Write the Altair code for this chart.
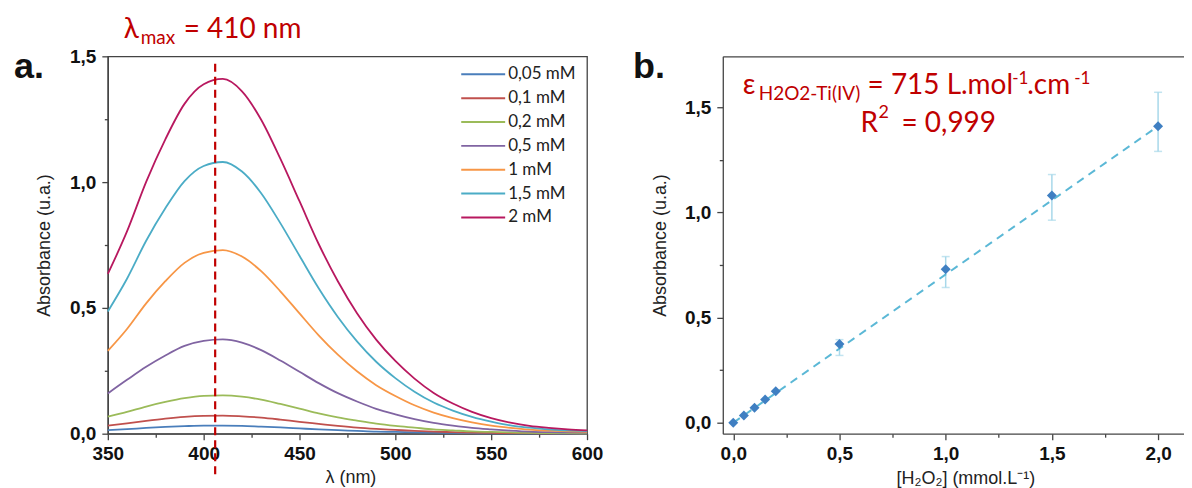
import altair as alt
import pandas as pd

# ---------------- panel a : UV-vis spectra ----------------
wavelength = [350, 360, 370, 380, 390, 400, 410, 420, 430, 440, 450, 460, 470,
              480, 490, 500, 510, 520, 530, 540, 550, 560, 570, 580, 590, 600]
series_names = ["0,05 mM", "0,1 mM", "0,2 mM", "0,5 mM", "1 mM", "1,5 mM", "2 mM"]
series_colors = ["#4A7EBB", "#C0504D", "#9BBB59", "#8064A2", "#F79646", "#4BACC6", "#B8185F"]

abs_0_05 = [0.014, 0.018, 0.023, 0.027, 0.030, 0.032, 0.032, 0.031, 0.028, 0.025, 0.021, 0.017, 0.014,
            0.011, 0.008, 0.007, 0.005, 0.004, 0.003, 0.002, 0.001, 0.001, 0.001, 0.001, 0.000, 0.000]
abs_0_1 = [0.032, 0.041, 0.051, 0.060, 0.067, 0.071, 0.072, 0.069, 0.064, 0.056, 0.047, 0.039, 0.031,
           0.024, 0.019, 0.015, 0.011, 0.008, 0.006, 0.004, 0.003, 0.002, 0.002, 0.001, 0.001, 0.001]
abs_0_2 = [0.068, 0.087, 0.108, 0.126, 0.141, 0.150, 0.152, 0.147, 0.135, 0.118, 0.100, 0.081, 0.065,
           0.052, 0.040, 0.031, 0.024, 0.017, 0.013, 0.009, 0.007, 0.005, 0.003, 0.002, 0.002, 0.001]
abs_0_5 = [0.160, 0.214, 0.266, 0.311, 0.349, 0.369, 0.375, 0.362, 0.332, 0.291, 0.246, 0.201, 0.161,
           0.128, 0.099, 0.077, 0.058, 0.043, 0.032, 0.023, 0.017, 0.012, 0.008, 0.006, 0.005, 0.004]
abs_1 = [0.329, 0.416, 0.518, 0.606, 0.679, 0.719, 0.730, 0.704, 0.646, 0.566, 0.478, 0.391, 0.314,
         0.248, 0.193, 0.150, 0.113, 0.084, 0.062, 0.045, 0.032, 0.023, 0.016, 0.012, 0.009, 0.007]
abs_1_5 = [0.486, 0.616, 0.767, 0.896, 1.004, 1.064, 1.080, 1.042, 0.956, 0.837, 0.707, 0.578, 0.464,
           0.367, 0.286, 0.221, 0.167, 0.124, 0.092, 0.067, 0.048, 0.033, 0.024, 0.017, 0.013, 0.010]
abs_2 = [0.635, 0.804, 1.001, 1.170, 1.311, 1.389, 1.410, 1.361, 1.248, 1.093, 0.924, 0.754, 0.606,
         0.479, 0.374, 0.289, 0.219, 0.162, 0.120, 0.087, 0.062, 0.044, 0.031, 0.023, 0.017, 0.013]

lambda_line = [406]
lambda_line_top = [1.47]
lambda_line_bottom = [-0.18]

# ---------------- panel b : calibration ----------------
conc = [0.0, 0.05, 0.1, 0.15, 0.2, 0.5, 1.0, 1.5, 2.0]
absorb = [0.0, 0.035, 0.071, 0.11, 0.15, 0.374, 0.73, 1.08, 1.41]
err_low = [0.0, 0.035, 0.071, 0.11, 0.15, 0.32, 0.643, 0.963, 1.29]
err_high = [0.0, 0.035, 0.071, 0.11, 0.15, 0.395, 0.79, 1.18, 1.571]
fit_x = [0.0, 2.0]
fit_y = [0.0, 1.41]

# ---------------- build tables ----------------
all_series = [abs_0_05, abs_0_1, abs_0_2, abs_0_5, abs_1, abs_1_5, abs_2]
rows = []
for name, vals in zip(series_names, all_series):
    for w, v in zip(wavelength, vals):
        rows.append({"wl": w, "A": v, "serie": name})
df_a = pd.DataFrame(rows)
df_lam = pd.DataFrame({"wl": lambda_line, "y1": lambda_line_top, "y2": lambda_line_bottom})

df_b = pd.DataFrame({"c": conc, "A": absorb, "lo": err_low, "hi": err_high})
df_err = df_b[df_b["hi"] > df_b["lo"]]
df_fit = pd.DataFrame({"c": fit_x, "A": fit_y})

RED = "#C00000"
TXT_FONT = "Lato, Open Sans, DejaVu Sans"
AX_COLOR = "#444444"

def comma(step):
    return f"datum.value % {step} === 0 ? replace(format(datum.value, '.1f'), '.', ',') : ''"

def tick_cond(step):
    return {"condition": {"test": f"abs(datum.value % {step}) < 1e-9", "value": 6}, "value": 3.5}

common_axis = dict(
    grid=False, labelFont="Liberation Sans", labelFontSize=19, labelFontWeight="bold",
    labelColor="#111111", titleFont="Liberation Sans", titleFontSize=18,
    titleFontWeight="normal", titleColor="#222222", tickColor=AX_COLOR,
    domainColor=AX_COLOR, tickWidth=1.3, domainWidth=1.3, labelOverlap=False,
    labelFlush=False, titleBaseline="alphabetic",
)

W_A, H = 480, 378
W_B = 462

xa = alt.X("wl:Q", scale=alt.Scale(domain=[350, 600], nice=False, zero=False),
           axis=alt.Axis(title="λ (nm)", values=list(range(350, 601, 25)),
                         labelExpr="datum.value % 50 === 0 ? format(datum.value, 'd') : ''",
                         tickSize=tick_cond(50), labelPadding=5, titleX=243, titleY=49,
                         titleAngle=0, **common_axis))
ya = alt.Y("A:Q", scale=alt.Scale(domain=[0, 1.5], nice=False, zero=False),
           axis=alt.Axis(title="Absorbance (u.a.)",
                         values=[0, 0.25, 0.5, 0.75, 1.0, 1.25, 1.5],
                         labelExpr=comma(0.5), tickSize=tick_cond(0.5), labelPadding=6,
                         titleX=-58, titleY=H / 2, titleAngle=270, **common_axis))

lines = alt.Chart(df_a).mark_line(strokeWidth=1.8, interpolate="monotone").encode(
    x=xa, y=ya,
    color=alt.Color("serie:N", sort=series_names,
                    scale=alt.Scale(domain=series_names, range=series_colors),
                    legend=alt.Legend(orient="none", legendX=367.5, legendY=9.5, title=None,
                                      symbolType="M-4,0H4", symbolSize=121,
                                      symbolStrokeWidth=2, labelFont=TXT_FONT,
                                      labelFontSize=17, labelColor="#222222",
                                      rowPadding=5.9, labelOffset=16.5, padding=0)),
    order=alt.Order("serie:N"),
)

lam_rule = alt.Chart(df_lam).mark_rule(color=RED, strokeDash=[8, 5], strokeWidth=2.2).encode(
    x="wl:Q", y="y1:Q", y2="y2:Q")

def label(text, x, y, size, weight="normal", color=RED, font=TXT_FONT):
    return alt.Chart(pd.DataFrame({"t": [text]})).mark_text(
        align="left", baseline="alphabetic", font=font, fontSize=size,
        fontWeight=weight, color=color).encode(
        x=alt.value(x), y=alt.value(y), text="t:N")

panel_a = alt.layer(
    lines, lam_rule,
    label("a.", -94, 22, 36, "bold", "#111111", "Liberation Sans"),
    label("λ", 16, -18, 28),
    label("max", 33, -12, 19),
    label("= 410 nm", 76, -18, 28),
).properties(width=W_A, height=H,
             view=alt.ViewBackground(stroke=AX_COLOR, strokeWidth=1.3))

# ---------------- panel b ----------------
xb_scale = alt.Scale(domain=[-0.0494, 2.122], nice=False, zero=False)
yb_scale = alt.Scale(domain=[-0.052, 1.742], nice=False, zero=False)
xb = alt.X("c:Q", scale=xb_scale,
           axis=alt.Axis(title="[H₂O₂] (mmol.L⁻¹)",
                         values=[0, 0.25, 0.5, 0.75, 1.0, 1.25, 1.5, 1.75, 2.0],
                         labelExpr=comma(0.5), tickSize=tick_cond(0.5), labelPadding=5,
                         titleX=243, titleY=50, titleAngle=0, **common_axis))
yb = alt.Y("A:Q", scale=yb_scale,
           axis=alt.Axis(title="Absorbance (u.a.)",
                         values=[0, 0.25, 0.5, 0.75, 1.0, 1.25, 1.5],
                         labelExpr=comma(0.5), tickSize=tick_cond(0.5), labelPadding=6,
                         titleX=-57, titleY=H / 2, titleAngle=270, **common_axis))

ERR_C = "#A8D8EA"
err_rule = alt.Chart(df_err).mark_rule(color=ERR_C, strokeWidth=1.5).encode(
    x=alt.X("c:Q", scale=xb_scale), y=alt.Y("lo:Q", scale=yb_scale), y2="hi:Q")
cap_lo = alt.Chart(df_err).mark_tick(color=ERR_C, thickness=1.5, size=8, orient="horizontal").encode(
    x=alt.X("c:Q", scale=xb_scale), y=alt.Y("lo:Q", scale=yb_scale))
cap_hi = alt.Chart(df_err).mark_tick(color=ERR_C, thickness=1.5, size=8, orient="horizontal").encode(
    x=alt.X("c:Q", scale=xb_scale), y=alt.Y("hi:Q", scale=yb_scale))
fit = alt.Chart(df_fit).mark_line(color="#5BB8D6", strokeDash=[8, 6], strokeWidth=2).encode(
    x=alt.X("c:Q", scale=xb_scale), y=alt.Y("A:Q", scale=yb_scale))
pts = alt.Chart(df_b).mark_point(shape="diamond", filled=True, size=100, color="#3F7FC2",
                                 opacity=1).encode(x=xb, y=yb)

inner_b = alt.layer(
    err_rule, cap_lo, cap_hi, fit, pts,
    label("b.", -90, 22, 36, "bold", "#111111", "Liberation Sans"),
    label("ε", 20, 38, 28),
    label("H2O2-Ti(IV)", 36, 44, 19),
    label("= 715 L.mol", 145, 38, 28),
    label("-1", 290, 28, 17),
    label(".cm", 305, 38, 28),
    label("-1", 352, 28, 17),
    label("R", 138, 76, 28),
    label("2", 156, 62, 18),
    label("= 0,999", 179, 76, 28),
)

top_border = alt.Chart(df_b).mark_point(opacity=0).encode(
    x=alt.X("c:Q", scale=xb_scale,
            axis=alt.Axis(orient="top", labels=False, ticks=False, title=None, grid=False,
                          domain=True, domainColor=AX_COLOR, domainWidth=1.3)),
    y=alt.Y("A:Q", scale=yb_scale),
)

panel_b = alt.layer(inner_b, top_border).resolve_axis(x="independent").properties(
    width=W_B, height=H, view=alt.ViewBackground(stroke=None))

chart = alt.hconcat(panel_a, panel_b, spacing=136, bounds="flush").configure(
    padding={"left": 5, "top": 7, "right": 0, "bottom": 0},
    background="white",
).configure_view(stroke=None)

chart.save("out.html", embed_options={"renderer": "svg", "actions": False})
